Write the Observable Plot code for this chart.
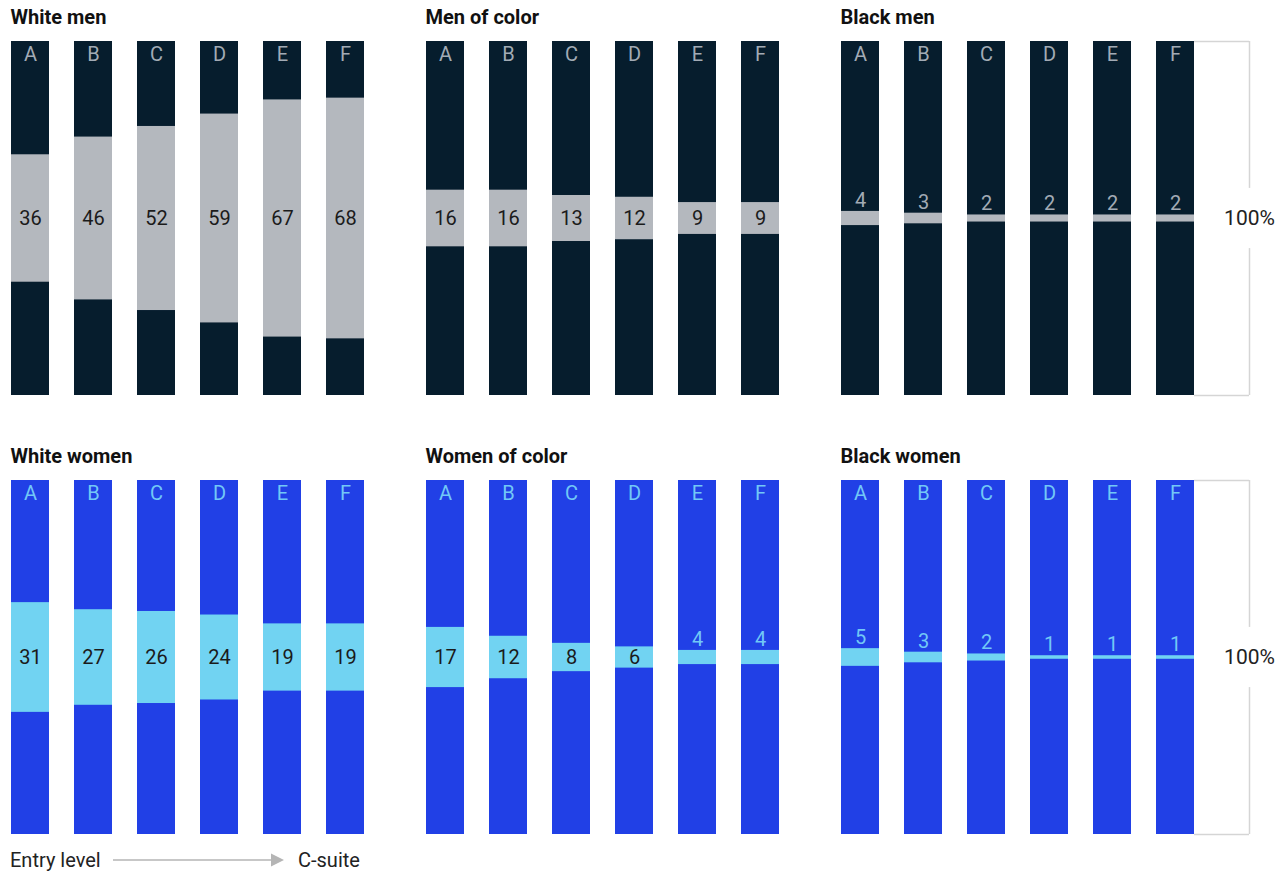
<!DOCTYPE html>
<html><head><meta charset="utf-8">
<script src="https://cdn.jsdelivr.net/npm/d3@7"></script>
<script src="https://cdn.jsdelivr.net/npm/@observablehq/plot@0.6"></script>
<style>
body{margin:0;background:#fff;font-family:Roboto,sans-serif;}
#chart{position:absolute;left:0;top:0}
#legend{position:absolute;left:0;top:845px}
</style></head><body>
<div id="chart"></div>
<svg id="legend" width="1281" height="28" font-family="Roboto" font-size="20" fill="#222">
  <text x="10" y="21.5">Entry level</text>
  <line x1="113" y1="15" x2="273" y2="15" stroke="#b5b5b5" stroke-width="1.3"/>
  <path d="M271,8.5 L284,15 L271,21.5Z" fill="#b5b5b5"/>
  <text x="298" y="21.5">C-suite</text>
</svg>
<script>
const levels = ["A","B","C","D","E","F"];
const races = ["White","Of color","Black"];
const genders = ["Men","Women"];
const titles = ["White men","Men of color","Black men","White women","Women of color","Black women"];
const whiteMen = [36,46,52,59,67,68];
const menOfColor = [16,16,13,12,9,9];
const blackMen = [4,3,2,2,2,2];
const whiteWomen = [31,27,26,24,19,19];
const womenOfColor = [17,12,8,6,4,4];
const blackWomen = [5,3,2,1,1,1];
const series = [whiteMen, menOfColor, blackMen, whiteWomen, womenOfColor, blackWomen];

const NAVY = "#061d2d", GRAY = "#b4b8be", GRAYTXT = "#a2abb5";
const BLUE = "#2140e6", CYAN = "#71d3f2", CYANTXT = "#72c8f6";

const data = [];
series.forEach((vals, i) => {
  vals.forEach((v, j) => data.push({race: races[i % 3], gender: genders[Math.floor(i / 3)], level: levels[j], value: v}));
});
const titleData = titles.map((t, i) => ({race: races[i % 3], gender: genders[Math.floor(i / 3)], title: t}));
const bracketData = genders.map(g => ({race: "Black", gender: g}));

const facetW = 354, gapX = 61, facetH = 354, gapY = 85;
const pad = 0.3987;
const bw = facetW * (1 - pad) / (levels.length - pad);
const base = d => d.gender === "Men" ? NAVY : BLUE;
const hi = d => d.gender === "Men" ? GRAY : CYAN;
const txt = d => d.gender === "Men" ? GRAYTXT : CYANTXT;
const lineCol = "#d5d5d5";

const chart = Plot.plot({
  width: 1281, height: 840,
  marginLeft: 10, marginRight: 1281 - 10 - 3 * facetW - 2 * gapX, marginTop: 41, marginBottom: 840 - 41 - 2 * facetH - gapY,
  fx: {domain: races, paddingInner: gapX / (facetW + gapX), paddingOuter: 0, axis: null},
  fy: {domain: genders, paddingInner: gapY / (facetH + gapY), paddingOuter: 0, axis: null},
  x: {domain: levels, paddingInner: pad, paddingOuter: 0, axis: null},
  y: {domain: [0, 100], axis: null},
  color: {type: "identity"},
  style: {fontFamily: "Roboto", fontSize: "20px", background: "#fff"},
  marks: [
    Plot.barY(data, {fx: "race", fy: "gender", x: "level", y1: 0, y2: 100, fill: base}),
    Plot.barY(data, {fx: "race", fy: "gender", x: "level", y1: d => 50 - d.value / 2, y2: d => 50 + d.value / 2, fill: hi}),
    Plot.text(data, {fx: "race", fy: "gender", x: "level", y: 100, text: "level", dy: 13, fill: txt, fontSize: 20}),
    Plot.text(data.filter(d => d.value > 5), {fx: "race", fy: "gender", x: "level", y: 50, text: d => String(d.value), fill: "#1b1b1b", fontSize: 20}),
    Plot.text(data.filter(d => d.value <= 5), {fx: "race", fy: "gender", x: "level", y: d => 50 + d.value / 2, text: d => String(d.value), dy: -11, fill: txt, fontSize: 20}),
    Plot.text(titleData, {fx: "race", fy: "gender", text: "title", frameAnchor: "top-left", textAnchor: "start", lineAnchor: "bottom", dy: -18, fontWeight: "bold", fontSize: 20, fill: "#111", style: {letterSpacing: "0.2px"}}),
    Plot.tickY(bracketData, {fx: "race", fy: "gender", x: () => "F", y: 100, insetLeft: bw, insetRight: -55, stroke: lineCol, strokeWidth: 1.5}),
    Plot.tickY(bracketData, {fx: "race", fy: "gender", x: () => "F", y: 0, insetLeft: bw, insetRight: -55, stroke: lineCol, strokeWidth: 1.5}),
    Plot.ruleX(bracketData, {fx: "race", fy: "gender", x: () => "F", y1: 0, y2: 41.5, dx: bw / 2 + 55, stroke: lineCol, strokeWidth: 1.5}),
    Plot.ruleX(bracketData, {fx: "race", fy: "gender", x: () => "F", y1: 58.5, y2: 100, dx: bw / 2 + 55, stroke: lineCol, strokeWidth: 1.5}),
    Plot.text(bracketData, {fx: "race", fy: "gender", x: () => "F", y: 50, text: () => "100%", dx: bw / 2 + 55, fill: "#222", fontSize: 21})
  ]
});
document.getElementById("chart").append(chart);
</script>
</body></html>
